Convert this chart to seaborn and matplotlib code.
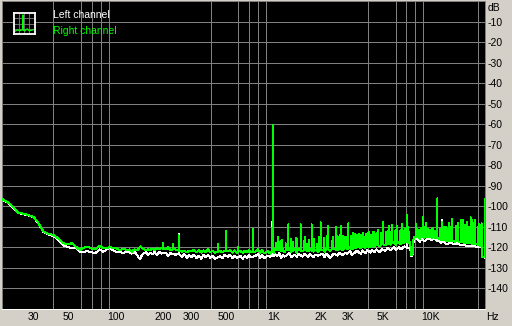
import matplotlib
matplotlib.use("Agg")
import matplotlib.pyplot as plt
import pandas as pd
import seaborn as sns
from matplotlib.ticker import FixedLocator, NullFormatter, FixedFormatter

# ---------------- data ----------------
# Right channel (green): noise floor
right_floor_hz = [18.9, 21, 24, 26.5, 28, 30, 32, 34.6, 37, 40, 43, 46.5, 49, 52.5, 56, 59, 62, 65.4, 70, 74,
                  79, 83, 87.5, 91.6, 96, 101, 106, 111, 117, 122, 126, 131, 137, 143, 148, 155, 160, 165, 171, 176,
                  182, 190, 195, 208, 215, 222, 238, 262, 272, 282, 292, 302, 313, 325, 337, 348, 360, 372, 385, 398,
                  412, 425, 460, 475, 488, 515, 532, 550, 567, 585, 620, 640, 660, 680, 700, 720, 775, 800, 825, 850,
                  875, 925, 955, 1010, 1020, 1060, 1090, 1120, 1150, 1175, 1220, 1270, 1300, 1370, 1410, 1450, 1530,
                  1580, 1670, 1710, 1800, 1840, 1930, 2060, 2120, 2180, 2290, 2420, 2560, 2630, 2780, 2870, 2940,
                  3080, 3150, 3300, 3400, 3600, 3680, 3850, 3950, 4150, 4230, 4400, 4520, 4750, 4880, 5150, 5300,
                  5560, 5850, 6000, 6300, 6450, 6800, 7200, 7400, 7520, 7650, 7800, 8250, 8500, 8750, 9100, 9550,
                  10200, 10500, 11300, 11600, 12200, 12600, 13400, 14200, 14600, 15400, 16400, 17400, 18500, 19600,
                  20200, 20700, 21150, 21200, 21950]
right_floor_db = [-96.4, -98.5, -103.1, -103.8, -104.3, -105.1, -107.8, -112.2, -113.3, -114.0, -115.6, -118.0, -118.3,
                  -118.0, -119.8, -121.2, -120.2, -119.6, -120.5, -120.9, -119.3, -120.3, -120.5, -119.6, -120.4,
                  -120.5, -121.3, -120.6, -121.3, -121.0, -122.1, -121.0, -121.5, -119.5, -120.6, -121.3, -120.9,
                  -121.3, -120.5, -121.2, -120.4, -121.0, -120.2, -121.0, -119.8, -121.5, -121.0, -122.1, -121.6,
                  -122.4, -121.6, -122.0, -121.2, -122.3, -121.5, -122.5, -121.4, -122.2, -121.0, -122.4, -121.6,
                  -122.6, -121.8, -122.4, -121.5, -122.0, -121.2, -122.5, -121.4, -122.6, -121.8, -122.7, -121.6,
                  -122.4, -121.5, -122.3, -122.0, -121.0, -122.6, -121.4, -122.8, -121.8, -123.0, -122.5, -121.0,
                  -121.5, -120.0, -122.0, -120.8, -122.3, -121.5, -120.5, -122.2, -121.0, -122.5, -120.6, -121.8,
                  -120.8, -122.0, -120.9, -122.1, -121.2, -122.4, -121.0, -122.3, -120.5, -121.8, -120.6, -121.5,
                  -120.3, -121.3, -120.0, -121.0, -119.8, -121.0, -120.2, -119.2, -120.5, -119.0, -120.2, -119.0,
                  -120.0, -118.8, -119.8, -118.5, -119.5, -118.2, -119.0, -117.8, -118.7, -117.5, -118.8, -117.2,
                  -118.4, -117.0, -118.0, -117.5, -123.7, -123.7, -115.0, -114.5, -115.8, -114.6, -115.3, -114.4,
                  -115.2, -114.5, -115.8, -116.2, -116.5, -117.0, -116.6, -117.2, -116.8, -117.5, -117.8, -118.0,
                  -118.2, -118.5, -118.8, -119.2, -119.2, -124.5, -124.8]
# Right channel spikes: frequency, foot level, peak level
right_spike_hz = [200, 230, 250, 447, 501, 600, 746, 975, 1000, 1040, 1110, 1198, 1246, 1340, 1420, 1492, 1560,
                  1629, 1690, 1753, 1886, 2000, 2100, 2237, 2349, 2490, 2560, 2705, 2850, 3000, 3120, 3225, 3380,
                  3503, 3620, 3751, 3900, 4036, 4180, 4299, 4450, 4647, 4800, 5002, 5200, 5434, 5550, 5704, 5900,
                  6138, 6350, 6603, 6750, 7036, 7300, 8026, 8400, 8700, 8977, 9290, 9900, 10400, 11020, 11850, 12500,
                  13070, 13720, 14400, 14980, 15500, 15970, 16930, 17950, 18400, 19110, 19900, 20400, 21080, 22000,
                  1070, 1140, 1290, 1390, 1600, 1810, 1960, 2200, 2400, 2640, 2780, 2920, 3300, 3450, 3700, 3980,
                  4350, 4550, 4950, 5350, 5650, 6050, 6500, 6900, 7150, 8200, 8600, 9150, 9600, 10200, 10700, 11500,
                  12200, 12800, 13400, 14700, 16400, 17400, 18800, 20700]
right_spike_foot = [-121.0, -121.0, -121.5, -122.0, -121.8, -122.0, -122.0, -122.0, -122.5, -121.5, -121.5, -121.5,
                    -121.5, -121.5, -121.5, -121.5, -121.5, -121.5, -121.5, -121.5, -121.5, -121.5, -121.5, -121.0,
                    -121.0, -121.0, -121.0, -121.0, -120.5, -120.5, -120.5, -120.5, -120.0, -120.0, -120.0, -119.5,
                    -119.5, -119.5, -119.5, -119.5, -119.0, -119.0, -119.0, -118.5, -118.5, -118.5, -118.5, -118.0,
                    -118.0, -118.0, -118.0, -117.8, -117.8, -117.5, -117.5, -115.0, -115.0, -115.0, -115.0, -115.0,
                    -115.0, -115.0, -115.5, -116.0, -116.5, -116.8, -116.8, -117.0, -117.0, -117.5, -117.5, -117.8,
                    -118.0, -118.2, -118.3, -118.5, -118.8, -119.2, -124.8,
                    -121.5, -121.5, -121.5, -121.5, -121.5, -121.5, -121.5, -121.0, -121.0, -121.0, -121.0, -120.5,
                    -120.5, -120.0, -120.0, -119.5, -119.5, -119.0, -118.5, -118.5, -118.0, -118.0, -118.0, -117.5,
                    -117.5, -115.0, -115.0, -115.0, -115.0, -115.0, -115.5, -116.0, -116.5, -116.8, -116.8, -117.0,
                    -117.8, -118.0, -118.3, -119.0]
right_spike_peak = [-117.8, -118.2, -114.0, -118.4, -111.9, -119.7, -111.1, -110.5, -60.2, -118.0, -117.0, -118.0,
                    -108.8, -117.2, -116.0, -108.8, -117.0, -118.3, -116.5, -108.8, -118.3, -107.8, -115.5, -109.6,
                    -116.7, -109.9, -114.5, -109.6, -115.0, -108.3, -114.5, -112.8, -113.8, -113.5, -114.0, -114.8,
                    -113.5, -112.4, -114.0, -112.7, -113.5, -111.5, -113.0, -107.5, -112.5, -109.6, -112.5, -109.1,
                    -112.0, -109.6, -112.0, -108.6, -112.0, -104.2, -112.5, -108.3, -111.5, -110.5, -105.0, -108.0,
                    -111.5, -110.6, -96.1, -107.5, -110.0, -108.3, -105.9, -109.5, -108.0, -106.7, -106.7, -107.5,
                    -105.4, -106.5, -106.7, -110.0, -108.5, -108.3, -96.3,
                    -115.0, -116.5, -116.0, -115.5, -115.0, -116.0, -115.0, -114.5, -115.0, -114.0, -114.5, -115.0,
                    -113.5, -114.0, -113.0, -113.0, -112.5, -113.0, -112.0, -112.0, -111.5, -111.5, -111.5, -111.0,
                    -110.0, -111.0, -112.0, -110.0, -111.0, -111.0, -112.0, -111.0, -110.0, -111.0, -110.0, -110.0,
                    -109.0, -110.0, -108.0, -109.0]

# Left channel (white): noise floor
left_floor_hz = right_floor_hz[:33] + [142] + right_floor_hz[34:]
left_floor_db = [-96.6, -98.7, -103.3, -104.0, -104.5, -105.3, -108.0, -112.5, -113.6, -114.4, -116.2, -119.0, -119.7,
                 -120.4, -120.2, -122.0, -122.2, -121.8, -122.4, -122.8, -121.0, -122.2, -121.0, -120.2, -121.5,
                 -122.3, -122.0, -122.8, -121.8, -122.5, -123.0, -122.0, -124.0, -125.7, -123.2, -122.4, -123.5,
                 -122.6, -123.4, -122.2, -123.8, -122.0, -123.0, -122.5, -124.2, -122.8, -123.6, -124.5, -123.2,
                 -125.0, -123.8, -124.8, -123.5, -125.2, -124.0, -125.5, -123.7, -124.8, -123.5, -125.0, -124.0,
                 -125.6, -124.2, -125.2, -123.8, -124.5, -123.5, -125.3, -124.0, -125.0, -124.2, -125.6, -124.0,
                 -125.2, -123.8, -124.8, -124.0, -123.3, -125.0, -123.8, -125.2, -124.0, -124.5, -124.0, -123.0,
                 -124.2, -122.8, -125.2, -123.5, -124.5, -123.8, -122.8, -124.8, -123.5, -124.6, -123.0, -124.5,
                 -123.2, -124.5, -123.4, -124.8, -123.5, -124.0, -123.0, -124.8, -123.0, -125.2, -123.0, -124.0,
                 -122.6, -123.8, -122.5, -123.2, -121.8, -123.5, -122.5, -121.6, -123.2, -121.5, -122.8, -121.4,
                 -122.6, -121.2, -122.2, -121.0, -122.4, -120.8, -121.8, -120.3, -121.5, -120.0, -121.3, -119.6,
                 -121.0, -119.5, -120.5, -120.0, -124.0, -124.0, -116.2, -116.0, -117.3, -116.0, -117.0, -115.8,
                 -116.4, -115.6, -117.0, -117.8, -117.6, -118.5, -117.8, -118.6, -118.0, -118.8, -119.0, -119.2,
                 -119.5, -119.6, -119.8, -120.0, -120.0, -124.6, -125.0]
left_spike_hz = [250, 985, 1000, 7036, 11020, 11850, 22000]
left_spike_foot = [-123.0, -124.0, -124.0, -120.0, -117.0, -117.5, -125.0]
left_spike_peak = [-113.4, -107.5, -61.0, -105.0, -97.0, -106.7, -97.0]

x_major = [30, 50, 100, 200, 300, 500, 1000, 2000, 3000, 5000, 10000]
x_major_labels = ["30", "50", "100", "200", "300", "500", "1K", "2K", "3K", "5K", "10K"]
x_grid = [30, 40, 50, 60, 70, 80, 90, 100, 200, 300, 400, 500, 600, 700, 800, 900,
          1000, 2000, 3000, 4000, 5000, 6000, 7000, 8000, 9000, 10000, 20000]
y_ticks = [-10, -20, -30, -40, -50, -60, -70, -80, -90, -100, -110, -120, -130, -140]
series_names = ["Left channel", "Right channel"]
series_colors = ["#ffffff", "#00ff00"]


def build(name, fl_hz, fl_db, sp_hz, sp_foot, sp_peak):
    rows = [(f, v, 0) for f, v in zip(fl_hz, fl_db)]
    for f, b, t in zip(sp_hz, sp_foot, sp_peak):
        rows += [(f, b, 1), (f, t, 2), (f, b, 3)]
    rows.sort(key=lambda r: (r[0], r[2]))
    return pd.DataFrame({"Hz": [r[0] for r in rows], "dB": [r[1] for r in rows], "channel": name})


df = pd.concat([
    build(series_names[0], left_floor_hz, left_floor_db, left_spike_hz, left_spike_foot, left_spike_peak),
    build(series_names[1], right_floor_hz, right_floor_db, right_spike_hz, right_spike_foot, right_spike_peak),
], ignore_index=True)

# ---------------- drawing ----------------
sns.set_theme(style="white")
plt.rcParams["font.family"] = ["Liberation Sans", "DejaVu Sans"]
BG = "#d4d0c8"
GRID = "#808080"
PX = 0.72  # one pixel in points at 100 dpi

fig = plt.figure(figsize=(5.12, 3.26), dpi=100, facecolor=BG)
W, H = 512, 326
ax = fig.add_axes([2 / W, 17 / H, 483 / W, 308 / H], facecolor="black")

sns.lineplot(data=df, x="Hz", y="dB", hue="channel", hue_order=series_names,
             palette=dict(zip(series_names, series_colors)), sort=False, estimator=None,
             legend=False, linewidth=PX, antialiased=False, ax=ax, zorder=3)

ax.set_xscale("log")
ax.set_xlim(18.9, 22130)
ax.set_ylim(-150, 0)
ax.xaxis.set_major_locator(FixedLocator(x_major))
ax.xaxis.set_major_formatter(FixedFormatter(x_major_labels))
ax.xaxis.set_minor_locator(FixedLocator(x_grid))
ax.xaxis.set_minor_formatter(NullFormatter())
ax.yaxis.set_major_locator(FixedLocator(y_ticks))
ax.yaxis.set_major_formatter(FixedFormatter([str(v) for v in y_ticks]))
ax.yaxis.tick_right()
ax.set_xlabel("")
ax.set_ylabel("")

ax.grid(False)
ax.xaxis.grid(True, which="minor", color=GRID, linewidth=PX, antialiased=False)
ax.yaxis.grid(True, which="major", color=GRID, linewidth=PX, antialiased=False)
ax.tick_params(axis="both", which="both", length=0, labelsize=7.5, colors="black")
ax.tick_params(axis="x", pad=2)
ax.tick_params(axis="y", pad=1.5)
for lab in ax.get_yticklabels():
    lab.set_horizontalalignment("left")
for s in ["top", "left", "right"]:
    ax.spines[s].set_color(GRID)
    ax.spines[s].set_linewidth(PX)
ax.spines["bottom"].set_color("white")
ax.spines["bottom"].set_linewidth(PX)

fig.text(488 / W, 1 - 8 / H, "dB", fontsize=7.5, ha="left", va="center", color="black")
fig.text(486 / W, 1 - 317.5 / H, "Hz", fontsize=7.5, ha="left", va="center", color="black")

# legend: small icon + colored labels
icon = fig.add_axes([13.5 / W, 1 - 34 / H, 21 / W, 21 / H], facecolor="black")
icon.set_xticks([]); icon.set_yticks([])
for s in icon.spines.values():
    s.set_color("white"); s.set_linewidth(1.3)
icon.set_xlim(0, 1); icon.set_ylim(0, 1)
for p in [0.25, 0.5, 0.75]:
    icon.axvline(p, color=GRID, lw=0.6)
    icon.axhline(p, color=GRID, lw=0.6)
icon.plot([0.05, 0.2, 0.3, 0.4, 0.45, 0.45, 0.45, 0.55, 0.65, 0.75, 0.95],
          [0.12, 0.2, 0.15, 0.2, 0.2, 0.9, 0.2, 0.15, 0.25, 0.15, 0.2], color="#00ff00", lw=0.9)

fig.text(53 / W, 1 - 15 / H, "Left channel", fontsize=7.5, color="white", ha="left", va="center")
fig.text(53 / W, 1 - 31 / H, "Right channel", fontsize=7.5, color="#00ff00", ha="left", va="center")

fig.savefig("out.png", dpi=100, facecolor=BG)
